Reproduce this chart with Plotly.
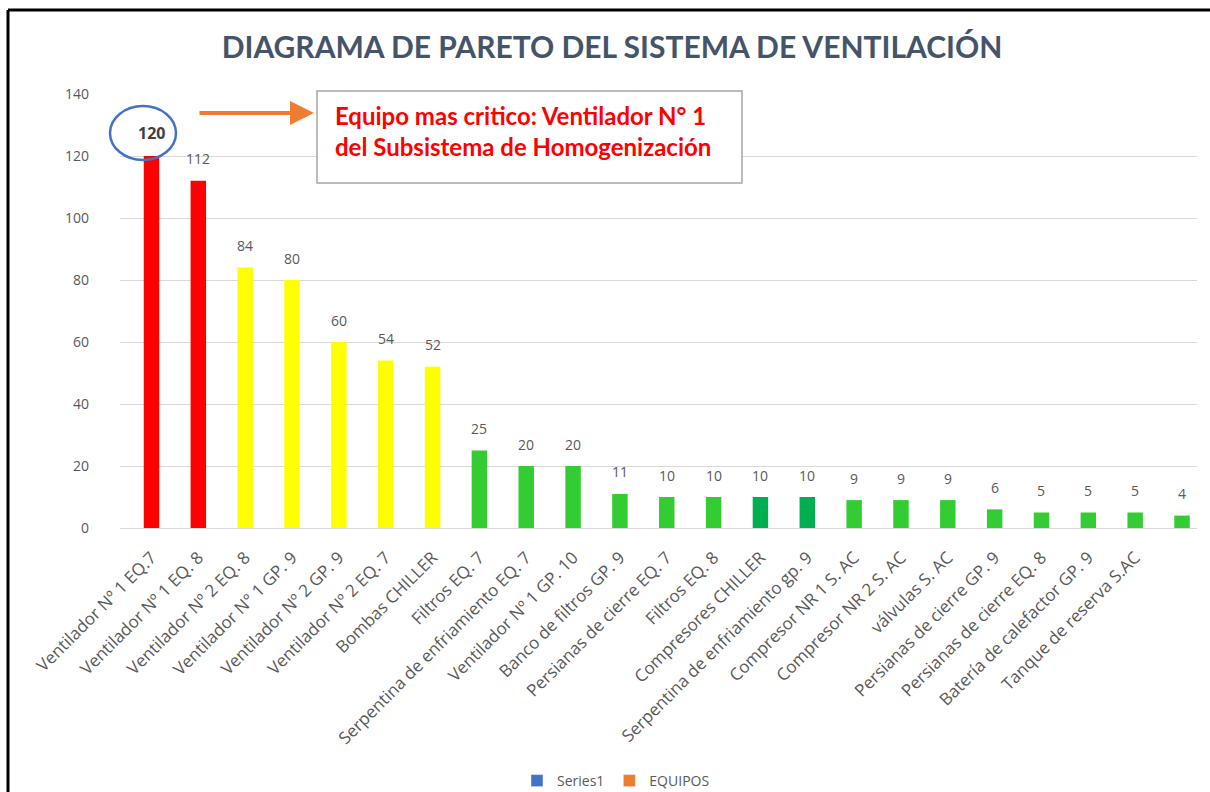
import plotly.graph_objects as go

# ---- data ----
equipos = [
    "Ventilador Nº 1 EQ.7", "Ventilador Nº 1 EQ. 8", "Ventilador Nº 2 EQ. 8",
    "Ventilador N° 1 GP. 9", "Ventilador Nº 2 GP. 9", "Ventilador Nº 2 EQ. 7",
    "Bombas CHILLER", "Filtros EQ. 7", "Serpentina de enfriamiento EQ. 7",
    "Ventilador Nº 1 GP. 10", "Banco de filtros GP. 9", "Persianas de cierre EQ. 7",
    "Filtros EQ. 8", "Compresores CHILLER", "Serpentina de enfriamiento gp. 9",
    "Compresor NR 1 S. AC", "Compresor NR 2 S. AC", "válvulas S. AC",
    "Persianas de cierre GP. 9", "Persianas de cierre EQ. 8",
    "Batería de calefactor GP. 9", "Tanque de reserva S.AC", "",
]
valores = [120, 112, 84, 80, 60, 54, 52, 25, 20, 20, 11, 10, 10, 10, 10, 9, 9, 9, 6, 5, 5, 5, 4]
colores = (["#FF0000"] * 2 + ["#FFFF00"] * 5 + ["#33CC33"] * 6 + ["#00B050"] * 2
           + ["#33CC33"] * 8)
y_ticks = [0, 20, 40, 60, 80, 100, 120, 140]

# ---- layout geometry (pixels) ----
W, H = 1210, 792
L, R, T, B = 120, 1197, 94, 528


def px(x):
    return (x - L) / (R - L)


def py(y):
    return (B - y) / (B - T)


pos = list(range(len(equipos)))

fig = go.Figure()
fig.add_trace(go.Bar(
    x=pos, y=valores, marker=dict(color=colores, line=dict(width=0)),
    width=0.33, showlegend=False, hoverinfo="x+y",
))
# legend entries
fig.add_trace(go.Bar(x=[None], y=[None], name="Series1", marker_color="#4472C4"))
fig.add_trace(go.Bar(x=[None], y=[None], name="EQUIPOS", marker_color="#ED7D31"))

# data labels
for i, (p, v) in enumerate(zip(pos, valores)):
    if i == 0:
        fig.add_annotation(x=p, y=v, yshift=23, text=f"<b>{v}</b>", showarrow=False,
                           font=dict(family="Open Sans", size=16, color="#404040"))
    else:
        fig.add_annotation(x=p, y=v, yshift=22, text=str(v), showarrow=False,
                           font=dict(family="Open Sans", size=14, color="#595959"))

fig.update_layout(
    width=W, height=H,
    margin=dict(l=L, r=W - R, t=T, b=H - B, autoexpand=False),
    paper_bgcolor="white", plot_bgcolor="white",
    font=dict(family="Open Sans", color="#595959"),
    title=dict(text="<b>DIAGRAMA DE PARETO DEL SISTEMA DE VENTILACIÓN</b>",
               x=px(612), xanchor="center", xref="paper", y=1 - 47 / H, yanchor="middle",
               font=dict(family="Lato", size=30, color="#44546A")),
    xaxis=dict(range=[-0.672, 22.32], tickmode="array", tickvals=pos, ticktext=equipos,
               tickangle=-45, tickfont=dict(family="Open Sans", size=17, color="#595959"),
               showgrid=False, showline=True, linecolor="#D9D9D9", linewidth=1,
               ticks="", zeroline=False, fixedrange=True, ticklabelstandoff=12),
    yaxis=dict(range=[0, 140], tickvals=y_ticks,
               tickfont=dict(family="Open Sans", size=14, color="#595959"),
               showgrid=True, gridcolor="#D9D9D9", gridwidth=1, zeroline=False,
               ticks="", ticklabelstandoff=30, showline=False),
    legend=dict(orientation="h", x=px(616), xanchor="center", y=py(781), yanchor="middle",
                font=dict(family="Open Sans", size=14, color="#595959"), itemclick=False),
    bargap=0.67,
)

shapes = [
    # outer frame (left and top edges)
    dict(type="line", xref="paper", yref="paper", x0=px(8), x1=px(8), y0=py(10), y1=py(820),
         line=dict(color="black", width=3)),
    dict(type="line", xref="paper", yref="paper", x0=px(8), x1=px(1230), y0=py(10), y1=py(10),
         line=dict(color="black", width=3)),
    # ellipse around max value
    dict(type="circle", xref="paper", yref="paper", x0=px(110), x1=px(176), y0=py(160), y1=py(106),
         line=dict(color="#4472C4", width=2.5)),
    # text box
    dict(type="rect", xref="paper", yref="paper", x0=px(317), x1=px(742), y0=py(183), y1=py(91),
         line=dict(color="#A6A6A6", width=1.5), fillcolor="white"),
]
fig.update_layout(shapes=shapes)

fig.add_annotation(
    xref="paper", yref="paper", x=px(314), y=py(113), ax=-116, ay=0,
    showarrow=True, arrowhead=2, arrowsize=1.2, arrowwidth=4, arrowcolor="#ED7D31", text="",
)
fig.add_annotation(
    xref="paper", yref="paper", x=px(333), y=py(131), xanchor="left", yanchor="middle",
    align="left", showarrow=False,
    text="<b>Equipo mas critico: Ventilador N° 1<br>del Subsistema de Homogenización</b>",
    font=dict(family="Lato", size=24, color="#FF0000"),
)

fig.write_html("out.html")
